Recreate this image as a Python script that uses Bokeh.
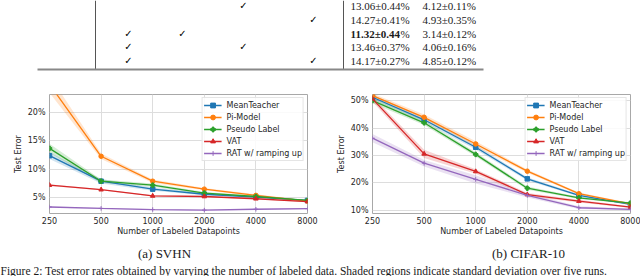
from bokeh.plotting import figure
from bokeh.layouts import column, row
from bokeh.models import Range1d, FixedTicker, PrintfTickFormatter, BasicTickFormatter
from bokeh.core.properties import value
from bokeh.embed import file_html
from bokeh.resources import INLINE

# ---------------- data ----------------
labeled = [250, 500, 1000, 2000, 4000, 8000]
methods = ["MeanTeacher", "Pi-Model", "Pseudo Label", "VAT", "RAT w/ ramping up"]

svhn_mean = {
    "MeanTeacher":       [12.4, 7.9, 6.5, 5.6, 5.1, 4.5],
    "Pi-Model":          [25.0, 12.3, 7.9, 6.5, 5.4, 4.4],
    "Pseudo Label":      [13.7, 7.9, 7.2, 5.8, 5.2, 4.5],
    "VAT":               [7.2, 6.4, 5.3, 5.2, 4.8, 4.3],
    "RAT w/ ramping up": [3.35, 3.1, 2.9, 2.8, 2.95, 3.05],
}
svhn_std = {
    "MeanTeacher":       [0.6, 0.4, 0.3, 0.2, 0.15, 0.1],
    "Pi-Model":          [1.5, 0.5, 0.3, 0.2, 0.2, 0.1],
    "Pseudo Label":      [0.8, 0.3, 0.3, 0.2, 0.15, 0.1],
    "VAT":               [0.15, 0.1, 0.1, 0.1, 0.1, 0.1],
    "RAT w/ ramping up": [0.1, 0.1, 0.1, 0.1, 0.1, 0.1],
}
cifar_mean = {
    "MeanTeacher":       [51.2, 43.0, 33.0, 21.5, 15.5, 12.2],
    "Pi-Model":          [51.8, 43.9, 34.2, 24.3, 16.1, 12.4],
    "Pseudo Label":      [50.0, 41.9, 30.4, 18.1, 14.6, 12.7],
    "VAT":               [50.6, 30.6, 24.2, 15.8, 13.4, 11.2],
    "RAT w/ ramping up": [36.3, 27.2, 21.3, 15.5, 11.0, 10.4],
}
cifar_std = {
    "MeanTeacher":       [0.8, 0.8, 0.8, 0.6, 0.4, 0.3],
    "Pi-Model":          [0.8, 1.0, 1.0, 0.6, 0.4, 0.3],
    "Pseudo Label":      [1.0, 0.8, 0.8, 0.6, 0.4, 0.3],
    "VAT":               [1.0, 1.5, 0.8, 0.6, 0.5, 0.3],
    "RAT w/ ramping up": [1.5, 1.2, 1.5, 0.8, 0.5, 0.3],
}
svhn_yticks = [5, 10, 15, 20]
cifar_yticks = [10, 20, 30, 40, 50]

# table fragment
table_checks = [
    [False, False, True, False],
    [False, False, False, True],
    [True, True, False, False],
    [True, False, True, False],
    [True, False, False, True],
]
table_cifar = ["13.06±0.44", "14.27±0.41", "11.32±0.44", "13.46±0.37", "14.17±0.27"]
table_svhn = ["4.12±0.11%", "4.93±0.35%", "3.14±0.12%", "4.06±0.16%", "4.85±0.12%"]
table_bold = [False, False, True, False, False]

captions = ["(a) SVHN", "(b) CIFAR-10"]
fig_caption = ("Figure 2: Test error rates obtained by varying the number of labeled data. "
               "Shaded regions indicate standard deviation over five runs.")

# ---------------- style ----------------
colors = {
    "MeanTeacher": "#1f77b4",
    "Pi-Model": "#ff7f0e",
    "Pseudo Label": "#2ca02c",
    "VAT": "#d62728",
    "RAT w/ ramping up": "#9467bd",
}
markers = {
    "MeanTeacher": "square",
    "Pi-Model": "circle",
    "Pseudo Label": "plus",
    "VAT": "triangle",
    "RAT w/ ramping up": "cross",
}
FONT = "DejaVu Sans"
SERIF = "Liberation Serif"
TXT = "#262626"
INK = "#1a1a1a"


def make_plot(mean, std, yr, yticks, width, bl, br):
    p = figure(width=width, height=160, x_axis_type="log",
               x_range=Range1d(250, 8000), y_range=Range1d(*yr),
               output_backend="svg", toolbar_location=None,
               min_border_left=bl, min_border_right=br,
               min_border_top=14, min_border_bottom=27)
    for m in methods:
        lo = [a - s for a, s in zip(mean[m], std[m])]
        hi = [a + s for a, s in zip(mean[m], std[m])]
        p.varea(x=labeled, y1=lo, y2=hi, fill_color=colors[m], fill_alpha=0.2)
    for m in methods:
        p.line(labeled, mean[m], line_color=colors[m], line_width=1.3, legend_label=m)
        p.scatter(labeled, mean[m], marker=markers[m], size=4.5,
                  fill_color=colors[m], line_color=colors[m], legend_label=m)
    p.xaxis.ticker = FixedTicker(ticks=labeled)
    p.xaxis.formatter = BasicTickFormatter()
    p.yaxis.ticker = FixedTicker(ticks=yticks)
    p.yaxis.formatter = PrintfTickFormatter(format="%d%%")
    p.xaxis.axis_label = "Number of Labeled Datapoints"
    p.yaxis.axis_label = "Test Error"
    for ax in (p.xaxis[0], p.yaxis[0]):
        ax.axis_line_color = None
        ax.major_tick_line_color = None
        ax.minor_tick_line_color = None
        ax.major_tick_out = 0
        ax.major_tick_in = 0
        ax.minor_tick_out = 0
        ax.major_label_text_font = FONT
        ax.major_label_text_font_size = "8px"
        ax.major_label_text_color = TXT
        ax.axis_label_text_font = FONT
        ax.axis_label_text_font_size = "8px"
        ax.axis_label_text_font_style = "normal"
        ax.axis_label_text_color = TXT
    p.xaxis.major_label_standoff = 3
    p.xaxis.axis_label_standoff = 0
    p.yaxis.major_label_standoff = 4
    p.yaxis.axis_label_standoff = 2
    p.xgrid.grid_line_color = "#dddddd"
    p.ygrid.grid_line_color = "#dddddd"
    p.outline_line_color = "#a8a8a8"
    p.outline_line_width = 1
    lg = p.legend[0]
    lg.location = "top_right"
    lg.margin = 3
    lg.padding = 1
    lg.spacing = 0
    lg.label_height = 12
    lg.glyph_height = 12
    lg.glyph_width = 18
    lg.label_standoff = 5
    lg.label_text_font = FONT
    lg.label_text_font_size = "8px"
    lg.label_text_color = TXT
    lg.border_line_color = "#cccccc"
    lg.background_fill_alpha = 0.85
    return p


left = make_plot(svhn_mean, svhn_std, (2.2, 23.2), svhn_yticks, 320, 49, 13)
right = make_plot(cifar_mean, cifar_std, (8.9, 52.2), cifar_yticks, 320, 52, 10)

# ---------------- table fragment ----------------
top = figure(width=640, height=80, x_range=Range1d(0, 640), y_range=Range1d(80, 0),
             output_backend="svg", toolbar_location=None,
             min_border=0, min_border_left=0, min_border_right=0,
             min_border_top=0, min_border_bottom=0)
top.axis.visible = False
top.grid.grid_line_color = None
top.outline_line_color = None
row_y = [5, 19, 33, 46, 60]
check_x = [128, 182, 243, 313]
cx, cy = [], []
for r, flags in enumerate(table_checks):
    for c, f in enumerate(flags):
        if f:
            cx.append(check_x[c])
            cy.append(row_y[r])
top.text(x=cx, y=cy, text=["\u2713\ufe0e"] * len(cx), text_font=value("DejaVu Sans"),
         text_font_size="10px", text_align="center", text_baseline="middle",
         text_color="#000000")
norm_y = [y for y, b in zip(row_y, table_bold) if not b]
norm_t = [t + "%" for t, b in zip(table_cifar, table_bold) if not b]
top.text(x=[350] * len(norm_y), y=norm_y, text=norm_t, text_font=value(SERIF),
         text_font_size="11px", text_baseline="middle", text_color=INK)
bold_y = [y for y, b in zip(row_y, table_bold) if b]
bold_t = [t for t, b in zip(table_cifar, table_bold) if b]
top.text(x=[350] * len(bold_y), y=bold_y, text=bold_t, text_font=value(SERIF),
         text_font_size="11px", text_font_style="bold", text_baseline="middle",
         text_color=INK)
top.text(x=[350 + 50] * len(bold_y), y=bold_y, text=["%"] * len(bold_y),
         text_font=value(SERIF), text_font_size="11px", text_baseline="middle",
         text_color=INK)
top.text(x=[422] * len(row_y), y=row_y, text=table_svhn, text_font=value(SERIF),
         text_font_size="11px", text_baseline="middle", text_color=INK)
top.segment(x0=[95, 343], y0=[0, 0], x1=[95, 343], y1=[69, 69],
            line_color="#555555", line_width=1)
top.segment(x0=[37], y0=[69], x1=[483], y1=[69], line_color="#888888", line_width=2)

# ---------------- captions ----------------
bottom = figure(width=640, height=36, x_range=Range1d(0, 640), y_range=Range1d(36, 0),
                output_backend="svg", toolbar_location=None,
                min_border=0, min_border_left=0, min_border_right=0,
                min_border_top=0, min_border_bottom=0)
bottom.axis.visible = False
bottom.grid.grid_line_color = None
bottom.outline_line_color = None
bottom.text(x=[164, 528], y=[13, 13], text=captions, text_font=value(SERIF),
            text_font_size="13px", text_align="center", text_baseline="middle",
            text_color=INK)
bottom.text(x=[0], y=[24], text=[fig_caption], text_font=value(SERIF),
            text_font_size="11.5px", text_baseline="top", text_color=INK)

layout = column(top, row(left, right), bottom)
open("out.html", "w").write(file_html(layout, INLINE))
